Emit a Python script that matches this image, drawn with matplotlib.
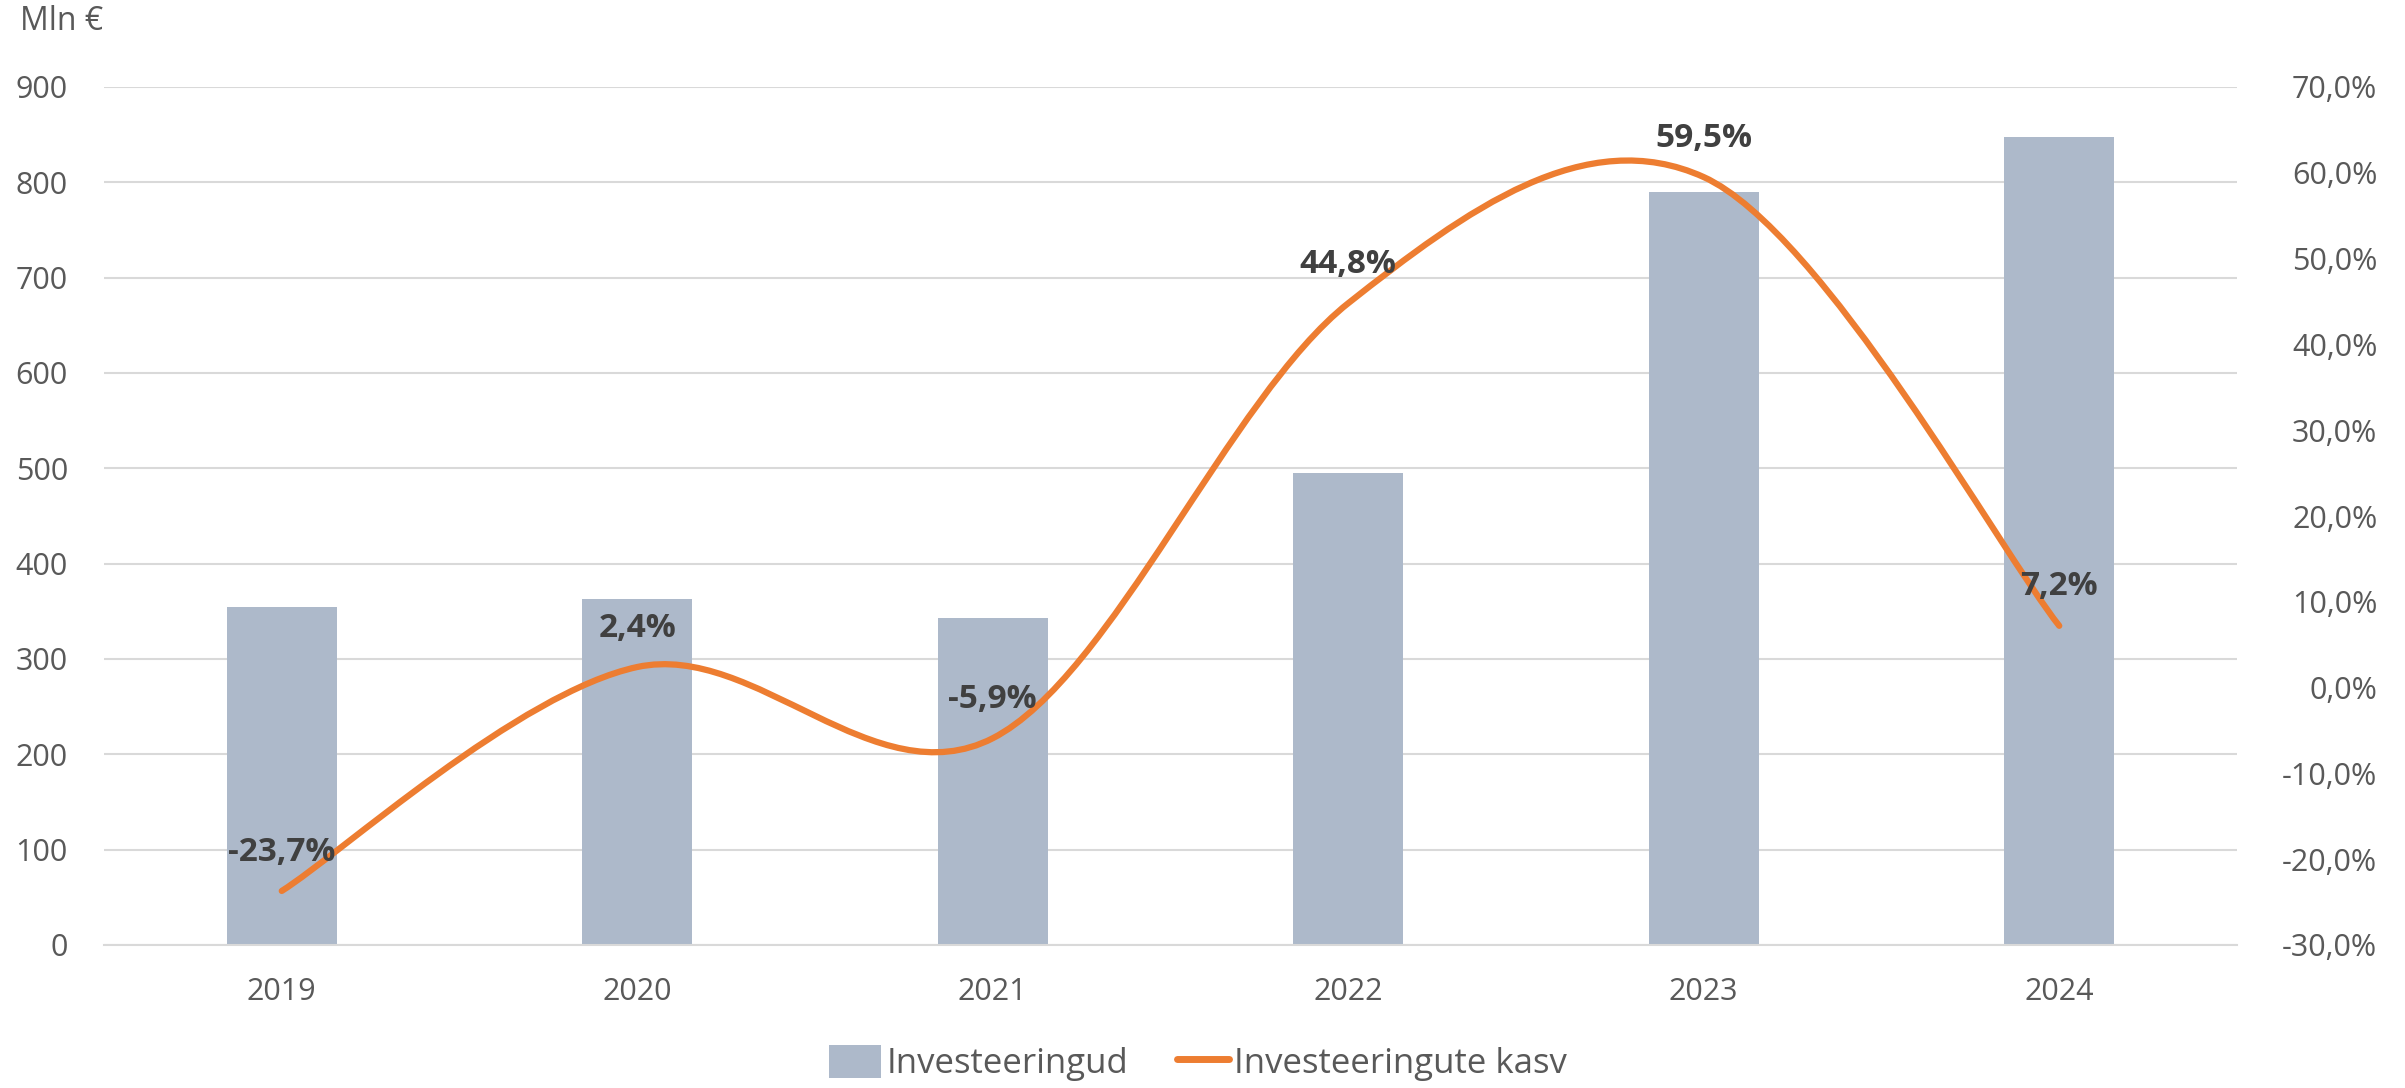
import numpy as np
import matplotlib
matplotlib.use("Agg")
import matplotlib.pyplot as plt
from matplotlib.path import Path
from matplotlib.patches import PathPatch, Patch
from matplotlib.lines import Line2D
from matplotlib.ticker import FuncFormatter

plt.rcParams['font.family'] = ['Open Sans', 'DejaVu Sans']

# andmed
years = ["2019", "2020", "2021", "2022", "2023", "2024"]
investments = [355, 363, 343, 495, 790, 848]
growth = [-23.7, 2.4, -5.9, 44.8, 59.5, 7.2]

bar_color = "#adb9ca"
line_color = "#ed7d31"
text_color = "#595959"
label_color = "#404040"
grid_color = "#d9d9d9"

fig = plt.figure(figsize=(24.05, 10.88), dpi=100)
ax = fig.add_axes([104 / 2405, 1 - 945 / 1088, (2237 - 104) / 2405, (945 - 87) / 1088])
ax2 = ax.twinx()

x = np.arange(len(years))
ax.bar(x, investments, width=0.31, color=bar_color, zorder=2)
ax.set_xlim(-0.5, len(years) - 0.5)
ax.set_ylim(0, 900)
ax.set_yticks(range(0, 901, 100))
ax.set_xticks(x)
ax.set_xticklabels(years)
ax.grid(axis='y', color=grid_color, linewidth=1.5, zorder=0)
ax.set_axisbelow(True)
for s in ["top", "right", "left"]:
    ax.spines[s].set_visible(False)
ax.spines["bottom"].set_color(grid_color)
ax.spines["bottom"].set_linewidth(1.5)
ax.tick_params(axis='both', length=0, labelsize=22, colors=text_color)
ax.tick_params(axis='y', pad=26)
ax.tick_params(axis='x', pad=23)

# kasvu joon (Exceli stiilis silutud kõver)
ax2.set_ylim(-30, 70)
ax2.set_yticks(range(-30, 71, 10))
ax2.yaxis.set_major_formatter(FuncFormatter(lambda v, p: f"{v:.1f}%".replace(".", ",")))
ax2.tick_params(axis='y', length=0, labelsize=22, colors=text_color, pad=101)
for lbl in ax2.get_yticklabels():
    lbl.set_horizontalalignment('right')
for s in ["top", "right", "left", "bottom"]:
    ax2.spines[s].set_visible(False)

pts = np.column_stack([x, growth]).astype(float)
verts = [pts[0]]
codes = [Path.MOVETO]
n = len(pts)
for i in range(n - 1):
    p_prev = pts[i - 1] if i > 0 else pts[i]
    p_next2 = pts[i + 2] if i + 2 < n else pts[i + 1]
    c1 = pts[i] + (pts[i + 1] - p_prev) / 6
    c2 = pts[i + 1] - (p_next2 - pts[i]) / 6
    verts += [c1, c2, pts[i + 1]]
    codes += [Path.CURVE4] * 3
ax2.add_patch(PathPatch(Path(verts, codes), facecolor='none', edgecolor=line_color,
                        linewidth=4.5, capstyle='round', joinstyle='round', zorder=3))

for xi, g in zip(x, growth):
    ax2.annotate(f"{g:.1f}%".replace(".", ","), (xi, g), xytext=(0, 28),
                 textcoords='offset points', ha='center', va='center',
                 fontsize=24, fontweight='bold', color=label_color, zorder=4)

fig.text(20 / 2405, 1 - 22 / 1088, "Mln €", fontsize=23, color=text_color, ha='left', va='center')

handles = [Patch(facecolor=bar_color, edgecolor='none'),
           Line2D([0], [0], color=line_color, linewidth=5, solid_capstyle='round')]
fig.legend(handles, ["Investeeringud", "Investeeringute kasv"], loc='center',
           bbox_to_anchor=(1198 / 2405, 1 - 1063 / 1088), ncol=2, frameon=False,
           fontsize=25, labelcolor=text_color, handlelength=1.5, handleheight=1.1,
           columnspacing=1.4, handletextpad=0.15)

fig.savefig("out.png", dpi=100)
